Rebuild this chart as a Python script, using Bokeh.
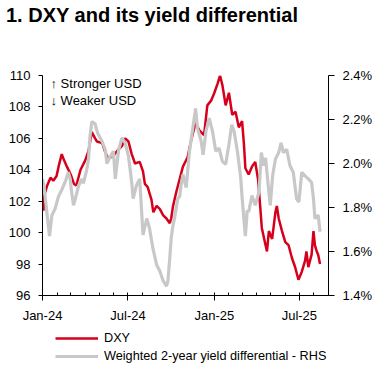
import pandas as pd
from bokeh.plotting import figure
from bokeh.layouts import column
from bokeh.models import (Range1d, LinearAxis, FixedTicker, DatetimeTickFormatter,
                          PrintfTickFormatter, Legend, LegendItem, Label, Div)
from bokeh.embed import file_html
from bokeh.resources import INLINE

# ---------------- data ----------------
dxy_dates = [
    "2024-01-01", "2024-01-03", "2024-01-06", "2024-01-11", "2024-01-18", "2024-01-24",
    "2024-01-31", "2024-02-05", "2024-02-11", "2024-02-16", "2024-02-22", "2024-03-01",
    "2024-03-08", "2024-03-13", "2024-03-22", "2024-04-01", "2024-04-08", "2024-04-15",
    "2024-04-22", "2024-04-26", "2024-05-07", "2024-05-14", "2024-05-20", "2024-05-31",
    "2024-06-11", "2024-06-18", "2024-06-25", "2024-07-02", "2024-07-09", "2024-07-16",
    "2024-07-26", "2024-08-02", "2024-08-06", "2024-08-12", "2024-08-20", "2024-08-24",
    "2024-08-31", "2024-09-07", "2024-09-14", "2024-09-21", "2024-09-28", "2024-10-01",
    "2024-10-05", "2024-10-12", "2024-10-19", "2024-10-26", "2024-11-05", "2024-11-12",
    "2024-11-22", "2024-11-30", "2024-12-10", "2024-12-17", "2024-12-25", "2025-01-01",
    "2025-01-08", "2025-01-13", "2025-01-18", "2025-01-25", "2025-02-01", "2025-02-08",
    "2025-02-15", "2025-02-22", "2025-03-01", "2025-03-05", "2025-03-08", "2025-03-15",
    "2025-03-22", "2025-03-29", "2025-04-04", "2025-04-09", "2025-04-12", "2025-04-20",
    "2025-04-23", "2025-04-27", "2025-05-04", "2025-05-11", "2025-05-14", "2025-05-18",
    "2025-05-25", "2025-06-01", "2025-06-08", "2025-06-15", "2025-06-22", "2025-06-29",
    "2025-07-06", "2025-07-13", "2025-07-16", "2025-07-20", "2025-07-27", "2025-07-31",
    "2025-08-03", "2025-08-07", "2025-08-10", "2025-08-14",
]
dxy_values = [
    102.4, 101.4, 102.5, 103.0, 103.5, 103.3,
    103.6, 104.3, 105.0, 104.6, 104.2, 103.7,
    103.1, 103.0, 104.0, 104.6, 105.2, 106.4,
    106.0, 105.8, 105.7, 105.1, 104.7, 104.9,
    105.3, 105.5, 106.0, 105.8, 105.0, 104.4,
    104.5, 103.9, 103.1, 102.9, 102.1, 101.3,
    101.7, 101.5, 101.1, 100.9, 100.6, 100.9,
    101.7, 102.6, 103.4, 104.2, 104.8, 105.8,
    107.0, 106.5, 106.2, 108.1, 108.4, 108.9,
    109.5, 110.0, 109.4, 108.1, 108.9, 107.5,
    107.7, 106.7, 107.1, 105.6, 104.1, 103.7,
    104.2, 104.5, 103.4, 101.5, 100.3, 99.2,
    98.8, 100.1, 99.6, 101.3, 101.7, 100.9,
    100.1, 99.4, 99.2, 98.4, 97.8, 97.0,
    97.5, 98.2, 98.8, 97.8, 98.6, 100.1,
    99.2, 98.8, 98.6, 98.0,
]

diff_dates = [
    "2024-01-01", "2024-01-04", "2024-01-11", "2024-01-16", "2024-01-21", "2024-01-28",
    "2024-02-04", "2024-02-11", "2024-02-19", "2024-02-25", "2024-02-29", "2024-03-03",
    "2024-03-07", "2024-03-11", "2024-03-18", "2024-03-25", "2024-03-28", "2024-04-04",
    "2024-04-08", "2024-04-11", "2024-04-15", "2024-04-22", "2024-04-27", "2024-05-07",
    "2024-05-14", "2024-05-17", "2024-05-24", "2024-05-31", "2024-06-04", "2024-06-11",
    "2024-06-18", "2024-06-25", "2024-07-02", "2024-07-09", "2024-07-12", "2024-07-19",
    "2024-07-26", "2024-08-02", "2024-08-10", "2024-08-16", "2024-08-23", "2024-08-31",
    "2024-09-07", "2024-09-14", "2024-09-21", "2024-09-24", "2024-09-28", "2024-10-01",
    "2024-10-05", "2024-10-08", "2024-10-15", "2024-10-19", "2024-10-22", "2024-10-26",
    "2024-11-02", "2024-11-09", "2024-11-16", "2024-11-22", "2024-11-26", "2024-12-04",
    "2024-12-08", "2024-12-14", "2024-12-21", "2024-12-28", "2025-01-04", "2025-01-11",
    "2025-01-18", "2025-01-25", "2025-02-01", "2025-02-07", "2025-02-12", "2025-02-19",
    "2025-02-26", "2025-03-01", "2025-03-08", "2025-03-12", "2025-03-15", "2025-03-22",
    "2025-03-29", "2025-04-06", "2025-04-11", "2025-04-16", "2025-04-20", "2025-04-27",
    "2025-04-30", "2025-05-05", "2025-05-11", "2025-05-18", "2025-05-23", "2025-05-28",
    "2025-06-04", "2025-06-11", "2025-06-18", "2025-06-25", "2025-06-30", "2025-07-06",
    "2025-07-13", "2025-07-20", "2025-07-27", "2025-07-31", "2025-08-03", "2025-08-10",
    "2025-08-14",
]
diff_values = [
    1.93, 1.90, 1.765, 1.67, 1.765, 1.795,
    1.85, 1.88, 1.92, 1.96, 1.93, 1.87,
    1.81, 1.84, 1.90, 1.93, 1.91, 1.97,
    2.02, 2.12, 2.19, 2.18, 2.14, 2.10,
    2.06, 2.00, 2.03, 2.056, 1.93, 2.06,
    2.116, 2.094, 2.034, 1.914, 1.84, 1.90,
    1.93, 1.675, 1.75, 1.705, 1.615, 1.54,
    1.51, 1.466, 1.443, 1.466, 1.57, 1.66,
    1.72, 1.75, 1.84, 1.85, 1.90, 1.95,
    1.89, 2.056, 2.16, 2.25, 2.16, 2.10,
    2.04, 2.146, 2.206, 2.146, 2.056, 2.07,
    2.01, 1.996, 2.086, 2.176, 2.146, 2.056,
    1.937, 1.847, 1.67, 1.787, 1.78, 1.854,
    1.81, 1.87, 2.05, 1.99, 2.026, 1.87,
    1.81, 1.944, 2.02, 2.05, 2.094, 2.05,
    2.064, 1.99, 1.96, 1.84, 1.825, 1.96,
    1.944, 1.93, 1.914, 1.84, 1.75, 1.765,
    1.69,
]

left_ticks = [96, 98, 100, 102, 104, 106, 108, 110]
right_ticks = [1.4, 1.6, 1.8, 2.0, 2.2, 2.4]
major_months = ["2024-01-01", "2024-07-01", "2025-01-01", "2025-07-01"]
x_start, x_end = "2024-01-01", "2025-09-01"

title_text = "1. DXY and its yield differential"
note_up = "\u2191 Stronger USD"
note_down = "\u2193 Weaker USD"
dxy_label = "DXY"
diff_label = "Weighted 2-year yield differential - RHS"

# ---------------- styling ----------------
RED = "#d6001c"
GREY = "#c8c8c8"
FONT = "Liberation Sans"
W = 375

# ---------------- title ----------------
title = Div(text=title_text, width=W, height=30, margin=0,
            styles={"font-family": FONT, "font-size": "20px", "font-weight": "bold",
                    "color": "#000000", "padding-top": "4px", "padding-left": "6px",
                    "line-height": "normal", "white-space": "nowrap"})

# ---------------- main chart ----------------
dxy_x = pd.to_datetime(dxy_dates)
diff_x = pd.to_datetime(diff_dates)

p = figure(width=W, height=295, x_axis_type="datetime",
           x_range=Range1d(pd.Timestamp(x_start), pd.Timestamp(x_end)),
           y_range=Range1d(96, 110), title=None,
           output_backend="svg", toolbar_location=None,
           min_border_left=42, min_border_right=46,
           min_border_top=45, min_border_bottom=27)
p.extra_y_ranges = {"rhs": Range1d(1.4, 2.4)}
p.outline_line_color = None
p.grid.grid_line_color = None
p.background_fill_color = "white"
p.border_fill_color = "white"

r_dxy = p.line(dxy_x, dxy_values, line_color=RED, line_width=2.5)
r_diff = p.line(diff_x, diff_values, line_color=GREY, line_width=3.2, y_range_name="rhs")

# x axis
month_starts = pd.date_range(x_start, x_end, freq="MS")
major_ms = [pd.Timestamp(d).value // 10**6 for d in major_months]
minor_ms = [d.value // 10**6 for d in month_starts]
xa = p.xaxis[0]
xa.ticker = FixedTicker(ticks=major_ms, minor_ticks=minor_ms)
fmt = "%b-%y"
xa.formatter = DatetimeTickFormatter(years=fmt, months=fmt, days=fmt, hours=fmt,
                                     minutes=fmt, seconds=fmt, milliseconds=fmt,
                                     microseconds=fmt, minsec=fmt, hourmin=fmt)
xa.major_tick_in = 0
xa.major_tick_out = 5
xa.minor_tick_in = 3
xa.minor_tick_out = 0
xa.major_label_standoff = 7

# left axis
ya = p.yaxis[0]
ya.ticker = FixedTicker(ticks=left_ticks)
ya.major_tick_in = 0
ya.major_tick_out = 4
ya.minor_tick_line_color = None
ya.major_label_standoff = 8

# right axis
ra = LinearAxis(y_range_name="rhs", ticker=FixedTicker(ticks=right_ticks),
                formatter=PrintfTickFormatter(format="%.1f%%"))
ra.major_tick_in = 0
ra.major_tick_out = 6
ra.minor_tick_line_color = None
ra.major_label_standoff = 8
p.add_layout(ra, "right")

for ax in (xa, ya, ra):
    ax.axis_line_color = "#000000"
    ax.major_tick_line_color = "#000000"
    ax.major_label_text_font = FONT
    ax.major_label_text_font_size = "13px"
    ax.major_label_text_color = "#000000"
xa.minor_tick_line_color = "#000000"

# notes
for txt, yv in ((note_up, 109.5), (note_down, 108.4)):
    p.add_layout(Label(x=pd.Timestamp("2024-01-18"), y=yv, text=txt,
                       text_font=FONT, text_font_size="13px",
                       text_baseline="middle", text_color="#000000"))

# ---------------- legend strip (series drawn out of view, only the key shows) ----------------
q = figure(width=W, height=42, x_range=Range1d(0, 1), y_range=Range1d(0, 1),
           x_axis_type=None, y_axis_type=None, title=None,
           output_backend="svg", toolbar_location=None,
           min_border_left=0, min_border_right=0, min_border_top=0, min_border_bottom=0)
q.outline_line_color = None
q.grid.grid_line_color = None
q.border_fill_color = "white"
q_dxy = q.line(dxy_x, dxy_values, line_color=RED, line_width=2.5)
q_diff = q.line(diff_x, diff_values, line_color=GREY, line_width=3.2)
legend = Legend(items=[LegendItem(label=dxy_label, renderers=[q_dxy]),
                       LegendItem(label=diff_label, renderers=[q_diff])],
                location=(13, 2), orientation="vertical",
                border_line_color=None, background_fill_alpha=0,
                padding=0, margin=0, spacing=0,
                glyph_width=43, glyph_height=18, label_height=18,
                label_standoff=6, label_text_font=FONT,
                label_text_font_size="12.7px", label_text_color="#000000")
q.add_layout(legend, "center")

layout = column(title, p, q, spacing=0)
open("out.html", "w").write(file_html(layout, INLINE))
